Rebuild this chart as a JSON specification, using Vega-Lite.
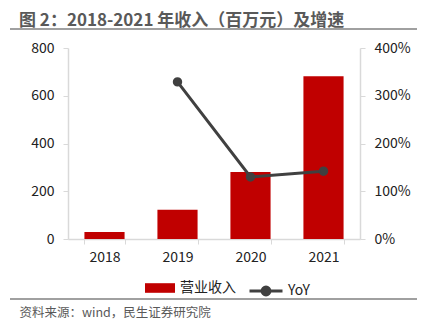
{
  "$schema": "https://vega.github.io/schema/vega-lite/v6.json",
  "width": 292,
  "height": 191,
  "autosize": {"type": "none"},
  "padding": {"left": 68, "top": 48, "right": 66, "bottom": 89},
  "background": "white",
  "config": {
    "view": {"stroke": null},
    "font": "Noto Sans CJK SC",
    "axis": {"labelFont": "Noto Sans CJK SC", "titleFont": "Noto Sans CJK SC"},
    "legend": {"labelFont": "Noto Sans CJK SC"}
  },
  "title": {
    "text": "图 2：2018-2021 年收入（百万元）及增速",
    "anchor": "start",
    "frame": "group",
    "dx": -49,
    "dy": 10,
    "offset": 8,
    "font": "Noto Sans CJK SC",
    "fontSize": 17,
    "fontWeight": "bold",
    "color": "#595959"
  },
  "data": {
    "values": [
      {"year": "2018", "revenue": 29, "yoy": null},
      {"year": "2019", "revenue": 123, "yoy": 3.29},
      {"year": "2020", "revenue": 281, "yoy": 1.30},
      {"year": "2021", "revenue": 682, "yoy": 1.42}
    ]
  },
  "layer": [
    {
      "mark": {"type": "bar", "color": "#C00000"},
      "encoding": {
        "x": {
          "field": "year",
          "type": "ordinal",
          "scale": {"paddingInner": 0.45, "paddingOuter": 0.225},
          "axis": {
            "title": "资料来源：wind，民生证券研究院",
            "titleFont": "Noto Sans CJK SC",
            "titleFontSize": 12.5,
            "titleFontWeight": "normal",
            "titleColor": "#595959",
            "titleAnchor": "start",
            "titleAlign": "left",
            "titleBaseline": "alphabetic",
            "titleX": -49,
            "titleY": 77,
            "labelAngle": 0,
            "labelFontSize": 14,
            "labelColor": "#222222",
            "labelPadding": 6,
            "tickBand": "extent",
            "tickSize": 5,
            "tickColor": "#d9d9d9",
            "domainColor": "#d9d9d9",
            "domainWidth": 1.5,
            "grid": false
          }
        },
        "y": {
          "field": "revenue",
          "type": "quantitative",
          "scale": {"domain": [0, 800], "nice": false},
          "axis": {
            "title": null,
            "values": [0, 200, 400, 600, 800],
            "labelFontSize": 14,
            "labelColor": "#222222",
            "labelPadding": 9,
            "tickSize": 5,
            "tickColor": "#d9d9d9",
            "domainColor": "#d9d9d9",
            "domainWidth": 1.5,
            "grid": false
          }
        },
        "fill": {
          "datum": "营业收入",
          "scale": {"domain": ["营业收入"], "range": ["#C00000"]},
          "legend": {
            "title": null,
            "orient": "none",
            "legendX": 77,
            "legendY": 225,
            "symbolType": "M-1,-0.32H1V0.32H-1Z",
            "symbolSize": 900,
            "symbolStrokeWidth": 0,
            "labelFontSize": 14,
            "labelColor": "#222222",
            "labelOffset": 5
          }
        }
      }
    },
    {
      "mark": {"type": "line", "color": "#404040", "strokeWidth": 3, "point": {"filled": true, "size": 55, "color": "#404040"}},
      "encoding": {
        "x": {"field": "year", "type": "ordinal"},
        "y": {
          "field": "yoy",
          "type": "quantitative",
          "scale": {"domain": [0, 4], "nice": false},
          "axis": {
            "title": null,
            "orient": "right",
            "format": ".0%",
            "values": [0, 1, 2, 3, 4],
            "labelFontSize": 14,
            "labelColor": "#222222",
            "labelPadding": 9,
            "tickSize": 5,
            "tickColor": "#d9d9d9",
            "domainColor": "#d9d9d9",
            "domainWidth": 1.5,
            "grid": false
          }
        },
        "stroke": {
          "datum": "YoY",
          "scale": {"domain": ["YoY"], "range": ["#404040"]},
          "legend": {
            "title": null,
            "orient": "none",
            "legendX": 180,
            "legendY": 225,
            "symbolType": "M-1,0H1M-0.24,0A0.24,0.24 0 1,1 0.24,0A0.24,0.24 0 1,1 -0.24,0Z",
            "symbolSize": 1089,
            "symbolStrokeWidth": 3,
            "symbolFillColor": "#404040",
            "labelFontSize": 14,
            "labelColor": "#222222",
            "labelOffset": 4
          }
        }
      }
    },
    {
      "data": {"values": [{}]},
      "mark": {"type": "rule", "color": "#808080", "strokeWidth": 1.5},
      "encoding": {"x": {"value": -58}, "x2": {"value": 349}, "y": {"value": -19}}
    },
    {
      "data": {"values": [{}]},
      "mark": {"type": "rule", "color": "#808080", "strokeWidth": 1.5},
      "encoding": {"x": {"value": -58}, "x2": {"value": 349}, "y": {"value": 251}}
    }
  ],
  "resolve": {"scale": {"y": "independent"}}
}
